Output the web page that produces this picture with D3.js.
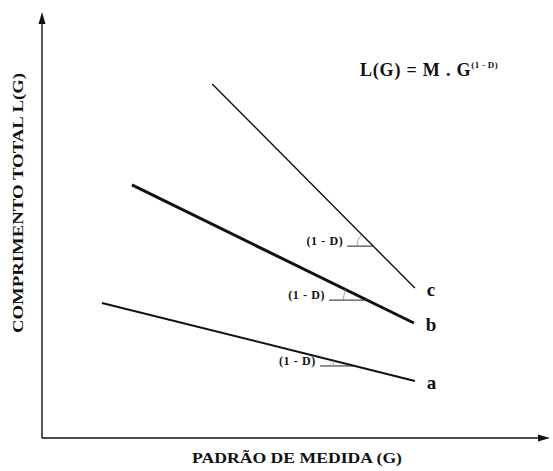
<!DOCTYPE html>
<html>
<head>
<meta charset="utf-8">
<script src="https://cdn.jsdelivr.net/npm/d3@7"></script>
<style>
  body { margin: 0; background: #fff; }
  svg text { font-family: "Liberation Serif", "DejaVu Serif", serif; font-weight: bold; fill: #111; }
</style>
</head>
<body>
<div id="chart"></div>
<script>
// schematic lines, in arbitrary units (x: 0-10, y: 0-10)
const lineNames = ["a", "b", "c"];
const lineStart = [[1.18, 3.17], [1.77, 5.94], [3.35, 8.31]];
const lineEnd = [[7.34, 1.34], [7.32, 2.70], [7.34, 3.52]];
const lineWidths = [2, 3, 1.4];
// where the (1 - D) angle sits on each line, and how long its base is
const angleAt = [6.16, 6.40, 6.52];
const angleBase = [0.69, 0.75, 0.51];
const angleLabel = "(1 - D)";

const W = 553, H = 471;
const svg = d3.select("#chart").append("svg")
    .attr("width", W)
    .attr("height", H);

const x = d3.scaleLinear().domain([0, 10]).range([42, 550]);
const y = d3.scaleLinear().domain([0, 10]).range([438, 12]);

// axes with arrows
svg.append("line")
    .attr("x1", x(0)).attr("y1", y(0))
    .attr("x2", x(0)).attr("y2", y(10) + 8)
    .attr("stroke", "#111").attr("stroke-width", 1.4);
svg.append("line")
    .attr("x1", x(0)).attr("y1", y(0))
    .attr("x2", x(10) - 8).attr("y2", y(0))
    .attr("stroke", "#111").attr("stroke-width", 1.4);
svg.append("path")
    .attr("d", `M${x(0)},${y(10)} L${x(0) - 3.5},${y(10) + 12} L${x(0) + 3.5},${y(10) + 12} Z`)
    .attr("fill", "#111");
svg.append("path")
    .attr("d", `M${x(10)},${y(0)} L${x(10) - 12},${y(0) - 3.5} L${x(10) - 12},${y(0) + 3.5} Z`)
    .attr("fill", "#111");

// the three lines
const lines = lineNames.map((n, i) => ({name: n, p0: lineStart[i], p1: lineEnd[i], w: lineWidths[i], at: angleAt[i], base: angleBase[i]}));

svg.selectAll("line.serie")
    .data(lines)
  .enter().append("line")
    .attr("class", "serie")
    .attr("x1", d => x(d.p0[0])).attr("y1", d => y(d.p0[1]))
    .attr("x2", d => x(d.p1[0])).attr("y2", d => y(d.p1[1]))
    .attr("stroke", "#111")
    .attr("stroke-width", d => d.w);

svg.selectAll("text.name")
    .data(lines)
  .enter().append("text")
    .attr("class", "name")
    .attr("x", d => x(d.p1[0]) + 12)
    .attr("y", d => y(d.p1[1]) + 8)
    .attr("font-size", 19)
    .text(d => d.name);

// angle marks
const yOn = (d, xv) => d.p0[1] + (xv - d.p0[0]) * (d.p1[1] - d.p0[1]) / (d.p1[0] - d.p0[0]);
const ang = svg.selectAll("g.ang")
    .data(lines)
  .enter().append("g")
    .attr("class", "ang")
    .attr("transform", d => `translate(${x(d.at)},${y(yOn(d, d.at))})`);

ang.append("line")
    .attr("x1", d => x(d.at - d.base) - x(d.at)).attr("y1", 0)
    .attr("x2", 0).attr("y2", 0)
    .attr("stroke", "#222").attr("stroke-width", 1);

ang.append("path")
    .attr("d", d => {
        const sx = x(d.p1[0]) - x(d.p0[0]), sy = y(d.p1[1]) - y(d.p0[1]);
        const a = Math.atan2(sy, sx);
        const r = (x(d.at) - x(d.at - d.base)) * 0.62;
        return d3.arc()({innerRadius: r, outerRadius: r, startAngle: -Math.PI / 2, endAngle: -Math.PI / 2 + a});
    })
    .attr("fill", "none")
    .attr("stroke", "#888")
    .attr("stroke-width", 0.8)
    .attr("stroke-dasharray", "2,1.5");

ang.append("text")
    .attr("x", d => x(d.at - d.base) - x(d.at) - 4)
    .attr("y", -1)
    .attr("text-anchor", "end")
    .attr("font-size", 12)
    .attr("letter-spacing", 0.6)
    .text(angleLabel);

// formula
const f = svg.append("text")
    .attr("x", 360)
    .attr("y", 76)
    .attr("font-size", 18)
    .attr("letter-spacing", 0.8);
f.append("tspan").text("L(G) = M . G");
f.append("tspan").attr("font-size", 9).attr("dy", -8).attr("letter-spacing", 0.3).text("(1 - D)");

// axis titles
svg.append("text")
    .attr("x", 297)
    .attr("y", 463)
    .attr("text-anchor", "middle")
    .attr("font-size", 15)
    .attr("textLength", 210)
    .attr("lengthAdjust", "spacingAndGlyphs")
    .text("PADRÃO DE MEDIDA (G)");
svg.append("text")
    .attr("transform", "translate(23,203) rotate(-90)")
    .attr("text-anchor", "middle")
    .attr("font-size", 14)
    .attr("textLength", 260)
    .attr("lengthAdjust", "spacingAndGlyphs")
    .text("COMPRIMENTO TOTAL  L(G)");
</script>
</body>
</html>
